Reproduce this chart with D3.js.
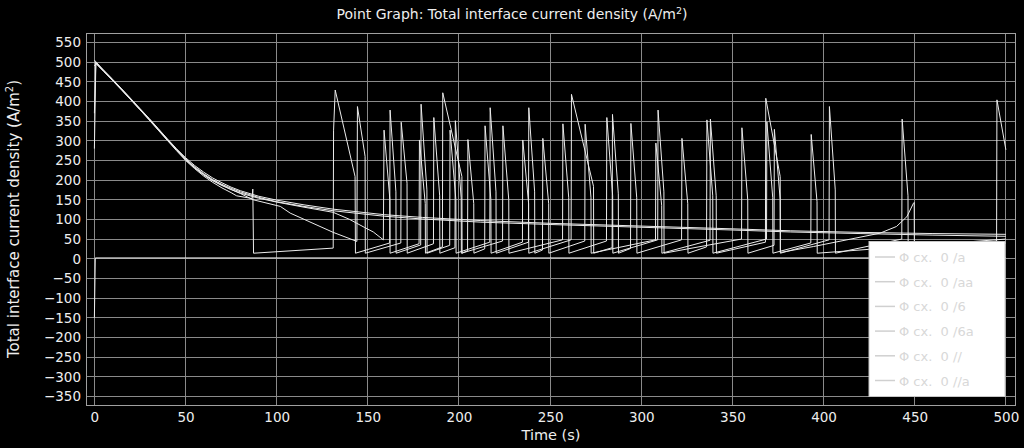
<!DOCTYPE html>
<html><head><meta charset="utf-8">
<script src="https://cdn.jsdelivr.net/npm/d3@7"></script>
<style>
html,body{margin:0;padding:0;background:#000;}
svg{display:block;font-family:"DejaVu Sans",sans-serif;}
</style></head>
<body>
<svg id="chart" width="1024" height="448"></svg>
<script>
// ---- data ----
const xTicks = [0,50,100,150,200,250,300,350,400,450,500];
const yTicks = [-350,-300,-250,-200,-150,-100,-50,0,50,100,150,200,250,300,350,400,450,500,550];
const legendLabels = ["Φ cx.  0 /a","Φ cx.  0 /aa","Φ cx.  0 /6","Φ cx.  0 /6a","Φ cx.  0 //","Φ cx.  0 //a"];

const series1 = [[0,500],[1,497],[5,479],[10,456],[15,432],[20,407],[25,382],[30,357],[35,331],[40,305],[45,280],[50,257],[55,237],[60,220],[65,205],[70,193],[75,182],[80,173],[90,159],[100,149],[115,137],[131,126],[159,112],[180,105],[212,97],[250,90],[300,83],[350,76],[382,71],[420,67],[460,64],[500,62]];
const series2 = [[0,370],[0.8,500],[1,496],[5,477],[10,454],[15,430],[20,405],[25,380],[30,355],[35,329],[40,303],[45,278],[50,254],[55,234],[60,216],[65,201],[70,189],[75,179],[80,170],[90,156],[100,145],[115,133],[131,122],[159,108],[180,101],[212,93],[250,87],[300,80],[350,73],[382,68],[420,64],[460,60],[500,57]];
const series3 = [[0,280],[0.8,498],[5,478],[10,453],[15,429],[20,404],[25,379],[30,353],[35,327],[40,301],[45,275],[50,250],[55,229],[60,210],[65,194],[70,180],[75,168],[78,160],[86.5,153],[86.9,177],[87.3,14],[131,27],[131.2,327],[132.1,429],[143,209],[143.2,14],
 [162,40],[162.2,378],[165.4,170],[165.5,14],
 [179,35],[179.2,393],[182.4,175],[182.5,14],
 [194.9,34],[195.1,327],[198.3,150],[198.4,14],
 [216.9,42],[217.1,384],[220.3,170],[220.4,14],
 [238.1,42],[238.3,384],[241.5,170],[241.6,14],
 [245.8,22],[246,306],[249.2,140],[249.3,14],
 [269,45],[269.2,342],[272.4,155],[272.5,14],
 [307.8,48],[308,294],[311.2,135],[311.3,14],
 [337.7,47],[337.9,355],[341.1,160],[341.2,14],
 [368.1,42],[368.3,408],[376.2,209],[376.3,16],
 [394.5,31],[412.8,48],[431,65],[440,82],[445.7,107],[449.3,141],[449.7,143],[449.8,14],
 [494.9,45],[495.1,404],[500,277]];
const series4 = [[0,505],[1,500],[5,480],[10,456],[15,431],[20,406],[25,381],[30,356],[35,330],[40,304],[45,278],[50,253],[55,232],[60,214],[65,199],[70,187],[75,176],[80,166],[87,150],[102,133],[107.4,116],[131,67],[144,44],[144.3,387],[148.5,260],[148.6,14],
 [168.1,40],[168.3,347],[171.5,192],[171.6,14],
 [186,38],[186.2,359],[189.4,160],[189.5,14],
 [197.8,28],[198,351],[201.2,155],[201.3,14],
 [223.9,45],[224.1,338],[227.3,150],[227.4,14],
 [256.8,48],[257,343],[260.2,155],[260.3,14],
 [280.9,45],[281.1,359],[284.3,160],[284.4,14],
 [309,48],[309.2,378],[312.4,170],[312.5,14],
 [355,50],[355.2,333],[358.4,150],[358.5,14],
 [372.8,34],[373,329],[376.2,150],[376.3,14],
 [403,48],[403.2,387],[406.4,175],[406.5,14],
 [442.9,50],[443.1,355],[446.3,160],[446.4,14],
 [500,40]];
const series5 = [[0,490],[1,496],[5,477],[10,453],[15,429],[20,404],[25,379],[30,354],[35,328],[40,302],[45,277],[50,252],[55,231],[60,213],[65,198],[70,186],[75,176],[80,167],[90,154],[100,144],[115,131],[131,118],[140,100],[148,80],[153,68],[158.5,48],[158.9,327],[162.1,150],[162.2,14],
 [178.1,38],[178.3,302],[181.5,140],[181.6,14],
 [190.9,30],[191.1,422],[201.6,209],[201.7,14],
 [204.7,20],[204.9,303],[208.1,140],[208.2,14],
 [214.1,25],[214.3,338],[217.5,150],[217.6,14],
 [234.8,42],[235,302],[238.2,140],[238.3,14],
 [261.5,48],[261.7,418],[273.8,184],[273.9,14],
 [284,28],[284.2,367],[287.4,165],[287.5,14],
 [294.1,26],[294.3,344],[297.5,155],[297.6,14],
 [322.1,48],[322.3,306],[325.5,140],[325.6,14],
 [335.8,30],[336,353],[339.2,160],[339.3,14],
 [368.7,50],[368.9,348],[372.1,155],[372.2,14],
 [393,40],[393.2,316],[396.4,145],[396.5,14],
 [500,50]];
const series6 = [[0,-150],[0.5,2],[500,2]];
const allSeries = [series1,series2,series3,series4,series5,series6];

// ---- layout ----
const svg = d3.select("#chart");
const L = 86, R = 1015, T = 33, B = 405;
const x = d3.scaleLinear().domain([-4.6, 505]).range([L, R]);
const y = d3.scaleLinear().domain([-372, 574]).range([B, T]);

svg.append("rect").attr("width",1024).attr("height",448).attr("fill","#000");

// grid
const g = svg.append("g");
g.selectAll(".gx").data(xTicks).enter().append("line")
  .attr("x1",d=>x(d)).attr("x2",d=>x(d)).attr("y1",T).attr("y2",B)
  .attr("stroke","#8a8a8a").attr("stroke-width",1).attr("shape-rendering","crispEdges");
g.selectAll(".gy").data(yTicks).enter().append("line")
  .attr("x1",L).attr("x2",R).attr("y1",d=>y(d)).attr("y2",d=>y(d))
  .attr("stroke","#8a8a8a").attr("stroke-width",1).attr("shape-rendering","crispEdges");
g.append("rect").attr("x",L).attr("y",T).attr("width",R-L).attr("height",B-T)
  .attr("fill","none").attr("stroke","#a0a0a0").attr("stroke-width",1).attr("shape-rendering","crispEdges");

// clip
svg.append("clipPath").attr("id","clip").append("rect")
  .attr("x",L).attr("y",T).attr("width",R-L).attr("height",B-T);

const line = d3.line().x(d=>x(d[0])).y(d=>y(d[1]));
svg.append("g").attr("clip-path","url(#clip)")
  .selectAll("path").data(allSeries).enter().append("path")
  .attr("d",line).attr("fill","none").attr("stroke","#ececec").attr("stroke-width",1);

// axes labels
const xAxis = d3.axisBottom(x).tickValues(xTicks).tickSize(0).tickPadding(7);
const ax = svg.append("g").attr("transform",`translate(0,${B})`).call(xAxis);
ax.select(".domain").remove();
ax.selectAll("text").attr("fill","#eeeeee").attr("font-size",13.5).attr("font-family","DejaVu Sans");

const yAxis = d3.axisLeft(y).tickValues(yTicks).tickSize(0).tickPadding(5);
const ay = svg.append("g").attr("transform",`translate(${L},0)`).call(yAxis);
ay.select(".domain").remove();
ay.selectAll("text").attr("fill","#eeeeee").attr("font-size",13.5).attr("font-family","DejaVu Sans");

// title
const title = svg.append("text").attr("x",512).attr("y",19).attr("text-anchor","middle")
  .attr("fill","#eeeeee").attr("font-size",14);
title.append("tspan").text("Point Graph: Total interface current density (A/m");
title.append("tspan").attr("dy",-5).attr("font-size",9.5).text("2");
title.append("tspan").attr("dy",5).text(")");

// x label
svg.append("text").attr("x",551).attr("y",440).attr("text-anchor","middle")
  .attr("fill","#eeeeee").attr("font-size",14.5).text("Time (s)");

// y label
const yl = svg.append("text").attr("transform",`translate(19,${(T+B)/2}) rotate(-90)`)
  .attr("text-anchor","middle").attr("fill","#eeeeee").attr("font-size",15);
yl.append("tspan").text("Total interface current density (A/m");
yl.append("tspan").attr("dy",-6).attr("font-size",10).text("2");
yl.append("tspan").attr("dy",6).text(")");

// legend
const lg = svg.append("g");
lg.append("rect").attr("x",869).attr("y",241.5).attr("width",136).attr("height",155)
  .attr("fill","#ffffff").attr("stroke","#c8c8c8").attr("stroke-width",1);
const items = lg.selectAll(".li").data(legendLabels).enter().append("g")
  .attr("transform",(d,i)=>`translate(0,${257 + i*24.7})`);
items.append("line").attr("x1",875).attr("x2",895).attr("y1",0).attr("y2",0)
  .attr("stroke","#d0d0d0").attr("stroke-width",1.5);
items.append("text").attr("x",899).attr("y",5).attr("fill","#d8d8d8").attr("font-size",13)
  .style("white-space","pre").text(d=>d);
</script>
</body></html>
